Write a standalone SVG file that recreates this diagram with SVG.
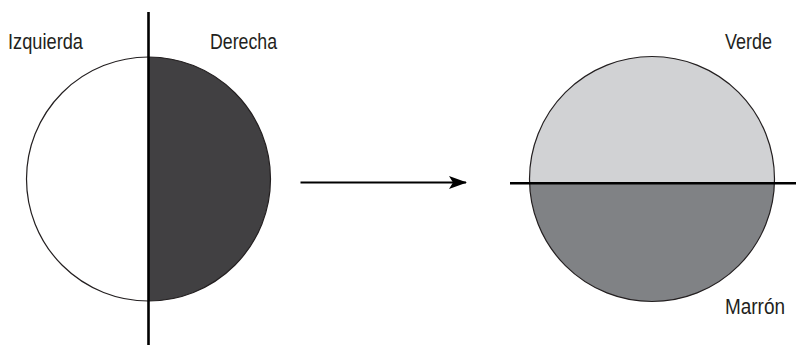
<svg xmlns="http://www.w3.org/2000/svg" width="796" height="345" viewBox="0 0 796 345">
<style>
.lbl{font-family:"Liberation Sans",Arial,sans-serif;font-size:22px;fill:#231f20}
.outline{fill:none;stroke:#231f20;stroke-width:1.2}
.axis{stroke:#000;stroke-width:2.6}
</style>
<defs>
<marker id="ah" viewBox="0 0 18 13" refX="17" refY="6.5" markerWidth="18" markerHeight="13" markerUnits="userSpaceOnUse" orient="auto">
<path d="M0,0 L18,6.5 L0,13 L4,6.5 z" fill="#000"/>
</marker>
</defs>
<rect width="796" height="345" fill="#fff"/>
<g id="left-circle">
<circle cx="148.5" cy="179" r="122" fill="#fff"/>
<path d="M148.5,57 A122,122 0 0 1 148.5,301 Z" fill="#414042"/>
<circle class="outline" cx="148.5" cy="179" r="122"/>
<line class="axis" x1="148.5" y1="12" x2="148.5" y2="345"/>
<text class="lbl" x="8" y="49" textLength="75" lengthAdjust="spacingAndGlyphs">Izquierda</text>
<text class="lbl" x="210" y="49" textLength="67" lengthAdjust="spacingAndGlyphs">Derecha</text>
</g>
<g id="right-circle">
<clipPath id="rc"><circle cx="652" cy="179" r="122.5"/></clipPath>
<g clip-path="url(#rc)">
<rect x="529" y="56" width="247" height="127" fill="#d1d2d4"/>
<rect x="529" y="183" width="247" height="120" fill="#808285"/>
</g>
<circle class="outline" cx="652" cy="179" r="122.5"/>
<line class="axis" x1="510" y1="183.3" x2="796" y2="183.3"/>
<text class="lbl" x="725" y="49" textLength="47" lengthAdjust="spacingAndGlyphs">Verde</text>
<text class="lbl" x="725" y="314" textLength="60" lengthAdjust="spacingAndGlyphs">Marrón</text>
</g>
<g id="connectors">
<line x1="300.5" y1="182.5" x2="466" y2="182.5" stroke="#000" stroke-width="2.2" marker-end="url(#ah)"/>
</g>
</svg>
